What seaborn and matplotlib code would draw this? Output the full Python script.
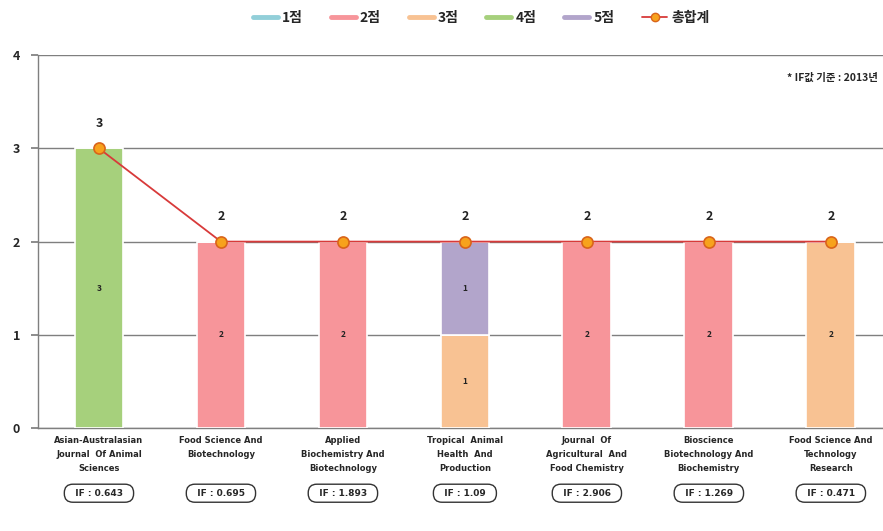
import numpy as np
import pandas as pd
import matplotlib
matplotlib.use("Agg")
import matplotlib.pyplot as plt
import seaborn as sns
from matplotlib.lines import Line2D
from matplotlib.transforms import blended_transform_factory

# 학술지 목록
journals = ['Asian-Australasian\nJournal  Of Animal\nSciences',
            'Food Science And\nBiotechnology',
            'Applied\nBiochemistry And\nBiotechnology',
            'Tropical  Animal\nHealth  And\nProduction',
            'Journal  Of\nAgricultural  And\nFood Chemistry',
            'Bioscience\nBiotechnology And\nBiochemistry',
            'Food Science And\nTechnology\nResearch']
if_values = ['0.643', '0.695', '1.893', '1.09', '2.906', '1.269', '0.471']

# 점수별 건수
score_1 = [0, 0, 0, 0, 0, 0, 0]
score_2 = [0, 2, 2, 0, 2, 2, 0]
score_3 = [0, 0, 0, 1, 0, 0, 2]
score_4 = [3, 0, 0, 0, 0, 0, 0]
score_5 = [0, 0, 0, 1, 0, 0, 0]
total = [3, 2, 2, 2, 2, 2, 2]

series_names = ['1점', '2점', '3점', '4점', '5점']
series_vals = [score_1, score_2, score_3, score_4, score_5]
colors = ['#92cfd9', '#f7959a', '#f8c293', '#a6d07c', '#b2a5cb']

sns.set_theme(style='white')
plt.rcParams['font.family'] = ['Noto Sans CJK KR', 'DejaVu Sans']

fig = plt.figure(figsize=(8.83, 5.31), dpi=100)
ax = fig.add_axes([0.043, 0.194, 0.967, 0.702])

x = np.arange(len(journals))
bottom = np.zeros(len(journals))
for name, vals, col in zip(series_names, series_vals, colors):
    vals = np.array(vals, dtype=float)
    ax.bar(x, vals, width=0.4, bottom=bottom, color=col, edgecolor='white',
           linewidth=1.2, zorder=3)
    for xi, v, b in zip(x, vals, bottom):
        if v > 0:
            ax.text(xi, b + v / 2, f'{int(v)}', ha='center', va='center',
                    fontsize=6, fontweight='bold', color='#222222', zorder=5)
    bottom += vals

df_total = pd.DataFrame({'x': x, 'total': total})
sns.lineplot(data=df_total, x='x', y='total', ax=ax, color='#d83a3a', lw=1.3,
             marker='o', markersize=8, markerfacecolor='#f7a21c',
             markeredgecolor='#d9641a', markeredgewidth=1.2, zorder=4)
for xi, t in zip(x, total):
    ax.text(xi, t + 0.2, f'{t}', ha='center', va='bottom', fontsize=9,
            fontweight='bold', color='#222222')

ax.set_xlim(-0.5, 6.5)
ax.set_ylim(0, 4)
ax.set_yticks([0, 1, 2, 3, 4])
ax.set_yticklabels(['0', '1', '2', '3', '4'], fontsize=9, fontweight='bold')
ax.yaxis.grid(True, color='#7f7f7f', lw=1.0, zorder=0)
ax.set_xlabel('')
ax.set_ylabel('')
ax.set_xticks(x)
ax.set_xticklabels(journals, fontsize=6, fontweight='bold', linespacing=1.7,
                   family='DejaVu Sans', va='top')
ax.tick_params(axis='x', length=0, pad=6)
ax.set_xticks(np.arange(0.5, 6.5, 1), minor=True)
ax.tick_params(axis='x', which='minor', length=5, color='#7f7f7f', direction='out')
ax.tick_params(axis='y', length=5, color='#7f7f7f', direction='out', left=True, pad=8)
for s in ['top', 'right']:
    ax.spines[s].set_visible(False)
for s in ['left', 'bottom']:
    ax.spines[s].set_color('#7f7f7f')
    ax.spines[s].set_linewidth(1.0)

trans = blended_transform_factory(ax.transData, ax.transAxes)
for xi, v in zip(x, if_values):
    ax.text(xi, -0.175, f'  IF : {v}  ', transform=trans, ha='center', va='center',
            fontsize=6.5, fontweight='bold', family='DejaVu Sans',
            bbox=dict(boxstyle='round,pad=0.5,rounding_size=0.95', fc='white',
                      ec='#333333', lw=1.0))

fig.text(0.994, 0.853, '* IF값 기준 : 2013년', ha='right', va='center',
         fontsize=7.5, fontweight='bold')

handles = [Line2D([0], [0], color=c, lw=3.5) for c in colors]
handles.append(Line2D([0], [0], color='#d83a3a', lw=1.3, marker='o',
                      markersize=6, markerfacecolor='#f7a21c',
                      markeredgecolor='#d9641a'))
fig.legend(handles, series_names + ['총합계'], loc='center', ncol=6,
           bbox_to_anchor=(0.545, 0.966), frameon=False, handlelength=1.8,
           handletextpad=0.3, columnspacing=2.0,
           prop={'family': 'Noto Sans CJK KR', 'weight': 'bold', 'size': 10})

fig.savefig('out.png', dpi=100)
